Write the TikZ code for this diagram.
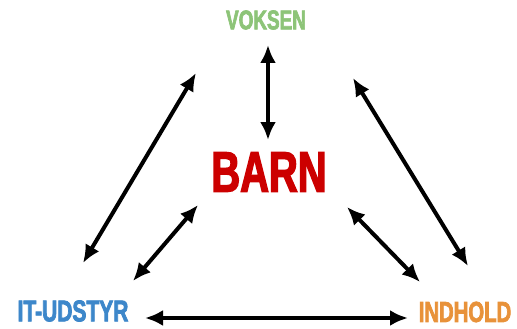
\documentclass[tikz,border=0pt]{standalone}
\usepackage{fontspec}
\newfontfamily\skrift{Liberation Sans}[FakeStretch=0.7,FakeBold=2.4]
\usetikzlibrary{arrows.meta}
\definecolor{groen}{HTML}{8DC478}
\definecolor{roed}{HTML}{CC0000}
\definecolor{blaa}{HTML}{3D87CA}
\definecolor{orange}{HTML}{E8923A}
\begin{document}
\begin{tikzpicture}[>={Latex[length=18pt,width=16pt]},line width=4pt,x=1pt,y=-1pt]
\useasboundingbox (0,0) rectangle (517,329);
\tikzset{ord/.style={inner sep=0pt}}
\node[ord,text=groen,font=\skrift\bfseries\fontsize{27}{27}\selectfont] (voksen) at (266,20) {VOKSEN};
\node[ord,text=roed,font=\skrift\bfseries\fontsize{57}{57}\selectfont] (barn) at (269,172) {BARN};
\node[ord,text=blaa,font=\skrift\bfseries\fontsize{30}{30}\selectfont] (it) at (73,311) {IT-UDSTYR};
\node[ord,text=orange,font=\skrift\bfseries\fontsize{29}{29}\selectfont] (indhold) at (465,312) {INDHOLD};
% pilenes endepunkter
\coordinate (vb1) at (268,45);  \coordinate (vb2) at (268,140);
\coordinate (vi1) at (196,73);  \coordinate (vi2) at (83,263);
\coordinate (vh1) at (353,78);  \coordinate (vh2) at (468,266);
\coordinate (bi1) at (198,205); \coordinate (bi2) at (133,281);
\coordinate (bh1) at (347,207); \coordinate (bh2) at (420,282);
\coordinate (ih1) at (145,318); \coordinate (ih2) at (408,318);
\def\pil#1#2{
	\draw[<->] (#1) -- (#2);
}
\pil{vb1}{vb2}
\pil{vi1}{vi2}
\pil{vh1}{vh2}
\pil{bi1}{bi2}
\pil{bh1}{bh2}
\pil{ih1}{ih2}
\end{tikzpicture}
\end{document}
